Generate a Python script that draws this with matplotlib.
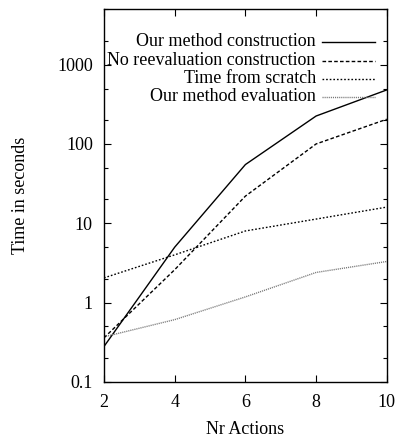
import matplotlib.pyplot as plt
from matplotlib.lines import Line2D
from matplotlib.ticker import LogLocator, FixedLocator, NullFormatter

# data (log scale, seconds)
actions = [2, 4, 6, 8, 10]
our_construction = [0.28, 5.0, 55, 225, 480]
no_reeval_construction = [0.36, 2.6, 22, 100, 205]
from_scratch = [2.05, 4.0, 8.0, 11.3, 16.0]
our_evaluation = [0.37, 0.61, 1.18, 2.4, 3.3]

labels = ["Our method construction", "No reevaluation construction",
          "Time from scratch", "Our method evaluation"]
y_ticks = [0.1, 1, 10, 100, 1000]
y_ticklabels = ["0.1", "1", "10", "100", "1000"]
x_ticks = [2, 4, 6, 8, 10]

plt.rcParams["font.family"] = ["Liberation Serif", "DejaVu Serif"]
plt.rcParams["font.size"] = 13.0

fig = plt.figure(figsize=(4.0, 4.37), dpi=100)
ax = fig.add_axes([0.26, 0.126, 0.707, 0.853])

styles = [
    dict(color="black", linestyle="-"),
    dict(color="black", linestyle=(0, (2.6, 1.6))),
    dict(color="black", linestyle=(0, (1.2, 1.4))),
    dict(color="#777777", linestyle=(0, (0.8, 0.7))),
]
series = [our_construction, no_reeval_construction, from_scratch, our_evaluation]
for vals, st in zip(series, styles):
    ax.plot(actions, vals, linewidth=1.0, **st)

ax.set_yscale("log")
ax.set_xlim(2, 10)
ax.set_ylim(0.1, 5000)
ax.set_xticks(x_ticks)
ax.set_xticklabels([str(v) for v in x_ticks])
ax.yaxis.set_major_locator(FixedLocator(y_ticks))
ax.set_yticklabels(y_ticklabels)
ax.yaxis.set_minor_locator(LogLocator(base=10, subs=(2, 5)))
ax.yaxis.set_minor_formatter(NullFormatter())
ax.tick_params(which="both", direction="in", top=True, right=True, width=0.8)
ax.tick_params(which="major", length=5)
ax.tick_params(which="minor", length=3)
ax.tick_params(axis="y", which="major", pad=8)
ax.tick_params(axis="x", which="major", pad=9)
for sp in ax.spines.values():
    sp.set_linewidth(1.0)

ax.set_xlabel("Nr Actions", labelpad=7)
ax.set_ylabel("Time in seconds", labelpad=20)

# gnuplot-style key: right-aligned text, sample to the right
key_y = [0.912, 0.862, 0.814, 0.765]
for lab, st, ky in zip(labels, styles, key_y):
    ax.text(0.749, ky, lab, transform=ax.transAxes, ha="right", va="center")
    ax.add_line(Line2D([0.771, 0.959], [ky, ky], transform=ax.transAxes,
                       linewidth=1.0, **st))

fig.savefig("out.png", dpi=100)
